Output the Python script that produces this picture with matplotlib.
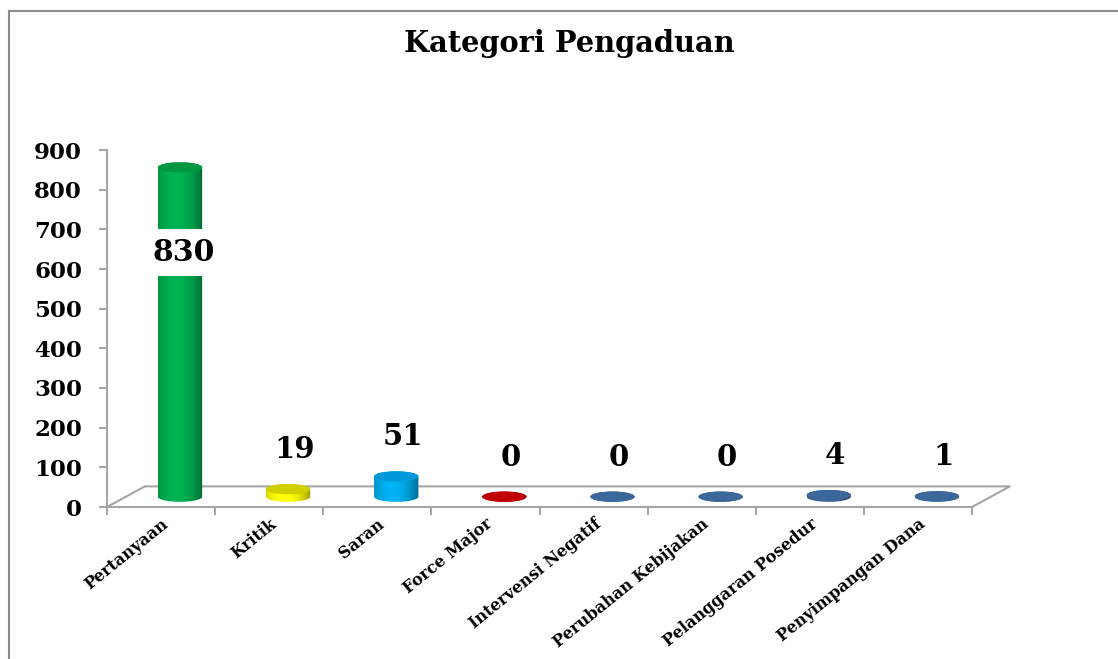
import numpy as np
import matplotlib
matplotlib.use("Agg")
import matplotlib.pyplot as plt
from matplotlib.patches import Ellipse, Polygon
from matplotlib.lines import Line2D
from matplotlib.colors import to_rgb

# data
categories = ["Pertanyaan", "Kritik", "Saran", "Force Major", "Intervensi Negatif",
              "Perubahan Kebijakan", "Pelanggaran Posedur", "Penyimpangan Dana"]
values = [830, 19, 51, 0, 0, 0, 4, 1]
colors = ["#00B050", "#FFFF00", "#00B0F0", "#C00000",
          "#3B679B", "#3B679B", "#3B679B", "#3B679B"]
top_colors = ["#00973F", "#CFCF00", "#0098D8", "#C00000",
              "#3B679B", "#3B679B", "#3B679B", "#3B679B"]
yticks = [0, 100, 200, 300, 400, 500, 600, 700, 800, 900]

W, H = 1118, 659
fig = plt.figure(figsize=(W / 100, H / 100), dpi=100)
ax = fig.add_axes([107 / W, (H - 507) / H, 865 / W, 357 / H])

font = "DejaVu Serif"
grey = "#A6A6A6"

# 3d floor
dx, dy = 0.35, 52
n = len(categories)
ax.plot([0, dx, n + dx, n], [0, dy, dy, 0], color=grey, lw=1.5, clip_on=False, zorder=1)

rx, ry = 0.205, 13
base = dy / 2
N = 64
u = np.linspace(-1, 1, N)
for i, v in enumerate(values):
    cx = i + 0.5 + dx / 2
    top = base + v
    c = np.array(to_rgb(colors[i]))
    k = 0.62 + 0.4 * np.clip(1 - ((u + 0.2) / 1.2) ** 2, 0, 1)
    grad = np.clip(c[None, :] * k[:, None], 0, 1)[None, :, :]
    t1 = np.linspace(np.pi, 2 * np.pi, 40)
    t2 = np.linspace(0, np.pi, 40)
    xs = np.concatenate([cx + rx * np.cos(t1), cx + rx * np.cos(t2)])
    ys = np.concatenate([base + ry * np.sin(t1), top + ry * np.sin(t2)])
    body = Polygon(np.column_stack([xs, ys]), closed=True, facecolor="none",
                   edgecolor="none", transform=ax.transData)
    ax.add_patch(body)
    im = ax.imshow(grad, extent=(cx - rx, cx + rx, base - ry, top + ry),
                   aspect="auto", zorder=3, interpolation="bilinear")
    im.set_clip_path(body)
    ax.add_patch(Ellipse((cx, top), 2 * rx, 2 * ry, facecolor=top_colors[i],
                         edgecolor="none", zorder=4))
    # data labels
    if v > 700:
        ax.text(cx + 0.03, top - 215, str(v), ha="center", va="center", fontsize=21.5,
                fontweight="bold", family=font, zorder=5,
                bbox=dict(boxstyle="square,pad=0.3", facecolor="white", edgecolor="none"))
    else:
        ax.text(cx + 0.06, top + 100, str(v), ha="center", va="center", fontsize=21,
                fontweight="bold", family=font, zorder=5)

ax.set_xlim(0, n)
ax.set_ylim(0, 900)

for s in ["top", "right"]:
    ax.spines[s].set_visible(False)
for s in ["left", "bottom"]:
    ax.spines[s].set_color(grey)
    ax.spines[s].set_linewidth(1.5)

ax.set_yticks(yticks)
ax.set_yticklabels([str(t) for t in yticks], fontsize=16.5, fontweight="bold", family=font)
ax.tick_params(axis="y", length=6, color=grey, width=1.5, pad=12)
ax.set_xticks(range(n + 1))
ax.set_xticklabels([])
ax.tick_params(axis="x", which="major", length=6, color=grey, width=1.5)
ax.set_xticks([i + 0.5 for i in range(n)], minor=True)
ax.set_xticklabels(categories, minor=True, rotation=39, ha="right", va="top",
                   rotation_mode="anchor", fontsize=11.6, fontweight="bold", family=font)
ax.tick_params(axis="x", which="minor", length=0, pad=6)

# chart border
fig.add_artist(Line2D([8.5 / W, 8.5 / W], [0, 1 - 10.5 / H], transform=fig.transFigure,
                      color="#8C8C8C", lw=1.5))
fig.add_artist(Line2D([8.5 / W, 1], [1 - 10.5 / H, 1 - 10.5 / H], transform=fig.transFigure,
                      color="#8C8C8C", lw=1.5))

fig.text(569 / W, 1 - 44 / H, "Kategori Pengaduan", ha="center", va="center",
         fontsize=20.8, fontweight="bold", family=font)

fig.savefig("out.png", dpi=100)
